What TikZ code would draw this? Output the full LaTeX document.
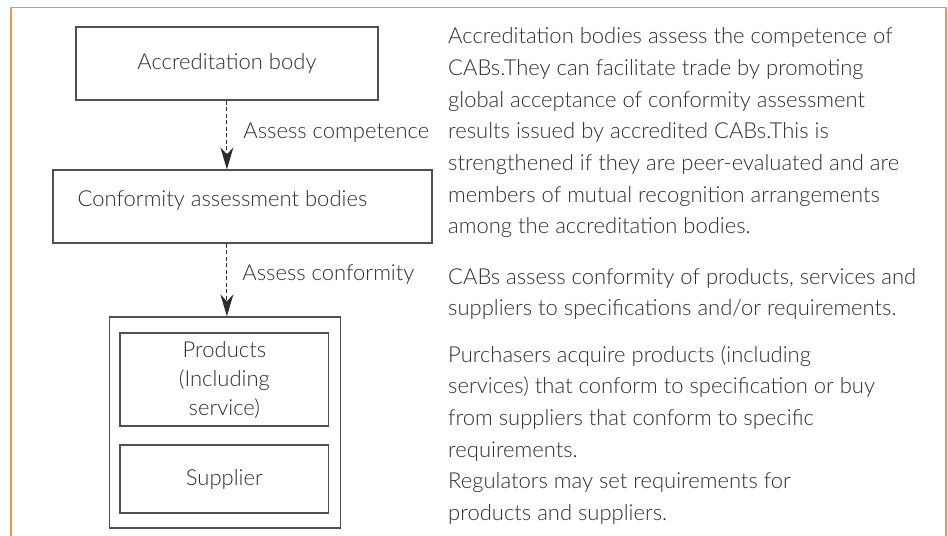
\documentclass[tikz,border=0pt]{standalone}
\usepackage{fontspec}
\setmainfont{Lato Light}
\usetikzlibrary{arrows.meta}
\definecolor{frameorange}{RGB}{240,150,72}
\definecolor{inkgray}{RGB}{45,45,45}
\definecolor{linegray}{RGB}{80,80,80}

\begin{document}
\begin{tikzpicture}[x=1bp,y=-1bp]

\tikzstyle{every node}=[font=\fontsize{22bp}{31.7bp}\selectfont, text=inkgray, inner sep=0pt]
\tikzstyle{box}=[draw=linegray, line width=1.3bp]
\tikzstyle{assess}=[draw=inkgray, line width=1.1bp, dash pattern=on 4bp off 2.5bp,
	-{Stealth[length=22bp,width=13bp,inset=7bp]}]
\tikzstyle{para}=[anchor=base west, align=left]

\useasboundingbox (0,0) rectangle (948,536);
\draw[frameorange, line width=1.5bp] (11,536) -- (11,7.5) -- (946,7.5) -- (946,536);

\node (acc) at (226.9,63.5) [box, minimum width=302bp, minimum height=73bp] {Accreditation body};
\node (cab) at (242.5,206.5) [box, minimum width=379bp, minimum height=73bp] {};
\node (cabtext) at (222.5,200) {Conformity assessment bodies};

\node (market) at (225,422.5) [box, minimum width=231.4bp, minimum height=211bp] {};
\node (products) at (224.4,379.5) [box, minimum width=208.7bp, minimum height=93bp,
	align=center, font=\fontsize{22bp}{29bp}\selectfont] {Products\\(Including\\service)};
\node (supplier) at (224.4,479) [box, minimum width=208.7bp, minimum height=68bp] {Supplier};

\draw[assess] (acc.south) -- (acc.south |- cab.north)
	node [pos=0.47, right=16bp] (lblcomp) {Assess competence};
\draw[assess] (acc.south |- cab.south) -- (acc.south |- market.north)
	node [pos=0.42, right=15bp] (lblconf) {Assess conformity};

% base = last line
\node (abtext) at (448,234) [para] {Accreditation bodies assess the competence of\\
	CABs.They can facilitate trade by promoting\\
	global acceptance of conformity assessment\\
	results issued by accredited CABs.This is\\
	strengthened if they are peer-evaluated and are\\
	members of mutual recognition arrangements\\
	among the accreditation bodies.};
\node (cabsays) at (448,316) [para] {CABs assess conformity of products, services and\\
	suppliers to specifications and/or requirements.};
\node (buyers) at (448,520.5) [para] {Purchasers acquire products (including\\
	services) that conform to specification or buy\\
	from suppliers that conform to specific\\
	requirements.\\
	Regulators may set requirements for\\
	products and suppliers.};

\end{tikzpicture}
\end{document}
